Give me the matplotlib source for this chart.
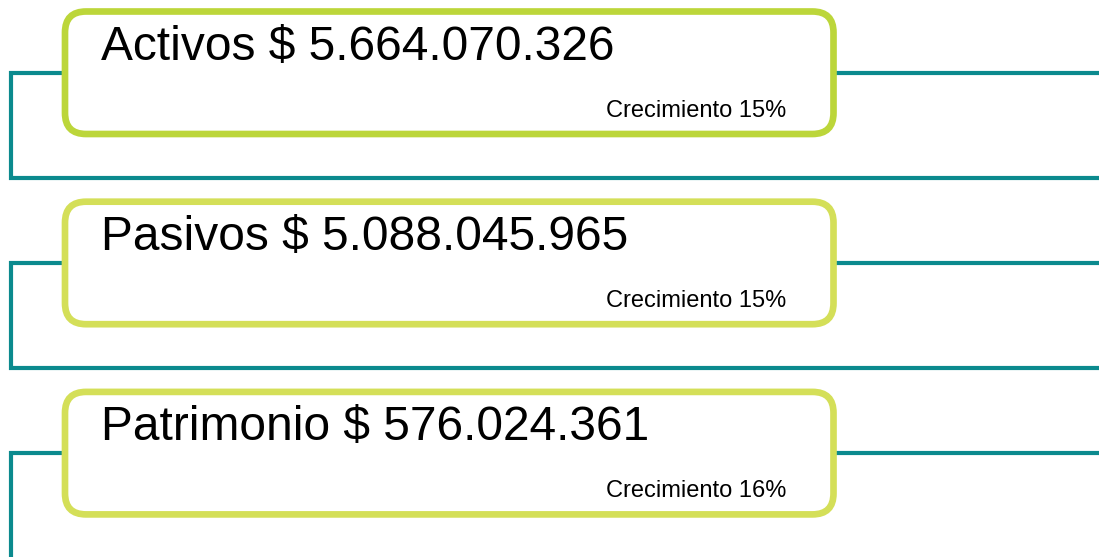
import matplotlib.pyplot as plt
from matplotlib.patches import FancyBboxPatch

# Datos del resumen financiero
etiquetas = ['Activos', 'Pasivos', 'Patrimonio']
valores = [5664070326, 5088045965, 576024361]
crecimiento = [15, 15, 16]

colores_borde = ['#bcd63a', '#d4df58', '#d4df58']
color_linea = '#0b8a8e'

plt.rcParams['font.family'] = ['Liberation Sans', 'DejaVu Sans']


def formato_pesos(v):
    return f"{v:,}".replace(',', '.')


fig = plt.figure(figsize=(10.99, 5.57), dpi=100)
ax = fig.add_axes([0, 0, 1, 1])
ax.set_xlim(0, 1099)
ax.set_ylim(557, 0)
ax.axis('off')

paso = 190.2
for i, (nombre, valor, crec) in enumerate(zip(etiquetas, valores, crecimiento)):
    y0 = 11.5 + i * paso  # borde superior de la caja

    # corchete verde azulado detrás de la caja
    y_linea = y0 + 61
    y_abajo = y0 + 166.5
    ax.plot([1110, 10.5, 10.5, 1110], [y_linea, y_linea, y_abajo, y_abajo],
            color=color_linea, lw=3.0, solid_joinstyle='miter', zorder=1)

    caja = FancyBboxPatch((65, y0), 768.5, 122.5,
                          boxstyle='round,pad=0,rounding_size=21',
                          facecolor='white', edgecolor=colores_borde[i],
                          lw=4.8, zorder=2)
    ax.add_patch(caja)

    ax.text(101, y0 + 48.5, f"{nombre} $ {formato_pesos(valor)}",
            fontsize=34.5, color='black', va='baseline', ha='left', zorder=3)
    ax.text(786, y0 + 105.5, f"Crecimiento {crec}%",
            fontsize=17, color='black', va='baseline', ha='right', zorder=3)

fig.savefig('out.png', dpi=100)
